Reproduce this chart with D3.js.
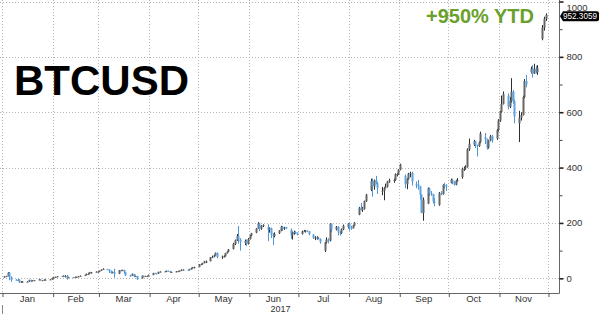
<!DOCTYPE html>
<html><head><meta charset="utf-8">
<script src="https://cdn.jsdelivr.net/npm/d3@7"></script>
<style>body{margin:0;background:#fff}svg{display:block}</style>
</head><body><svg id="c" width="600" height="314"></svg>
<script>
// Weekday OHLC, % change YTD (Jan 2 .. Nov 29, 2017)
const open=[4,6,8,20,5,-5,-6,-6,-14,-13,-12,-12,-6,-10,-7,-6,-4,-7,-7,-5,-5,-4,
1,3,5,8,6,9,9,3,4,3,5,5,7,10,12,16,16,22,22,24,
24,27,31,33,32,27,19,23,16,29,29,30,22,10,9,16,8,8,0,9,8,8,8,
12,19,18,17,23,24,25,27,26,22,23,25,26,27,31,31,30,33,36,40,
41,50,51,55,61,62,76,78,83,92,78,79,80,91,96,106,124,137,153,140,128,135,125,
142,155,165,179,198,179,190,185,175,181,158,153,163,172,186,179,184,175,155,167,167,165,
160,169,172,172,170,158,146,147,147,143,100,130,140,136,197,177,186,168,163,177,185,
198,182,181,191,230,255,247,251,279,320,350,332,354,344,315,316,326,331,350,355,355,376,376,
392,370,340,358,378,380,340,338,332,302,236,270,325,307,304,277,265,308,304,337,335,
345,356,349,338,353,365,396,396,401,466,483,495,481,478,492,510,503,472,497,513,505,536,
570,601,630,660,620,640,674,640,560,580,590,655,712,745,757,740,757,745,865,905,938];
const high=[7,9,22,23,7,-3,-4,-3,-11,-10,-10,-5,-5,-6,-6,-3,-3,-6,-4,-4,-3,2,
4,6,8,9,10,11,12,5,5,6,6,8,10,13,17,18,23,23,25,25,
28,32,36,34,33,28,24,35,30,31,31,31,23,13,17,16,10,9,10,10,9,9,13,
20,20,19,24,25,26,28,28,27,24,26,27,28,32,32,32,34,38,41,42,
51,53,56,63,64,77,82,85,93,93,82,83,92,98,106,128,140,160,189,145,140,140,146,
157,164,181,203,200,192,195,195,185,183,163,166,174,190,189,186,186,180,169,172,170,166,
172,175,174,173,171,160,152,152,149,144,131,148,145,199,198,189,188,170,180,194,200,
200,190,193,203,258,272,258,281,305,360,361,357,370,348,330,330,342,352,360,360,379,380,394,
414,375,362,381,385,385,350,355,334,304,292,328,328,315,305,290,312,315,340,345,340,
360,360,352,356,362,400,404,408,470,505,500,497,483,494,530,525,505,500,518,518,540,575,
605,660,675,668,655,723,680,645,605,600,660,720,735,765,770,775,768,770,915,945,957];
const low=[3,5,7,-7,-13,-8,-8,-17,-16,-14,-13,-13,-14,-11,-9,-7,-8,-8,-8,-6,-6,-5,
0,2,4,5,5,3,-5,1,2,2,4,4,6,9,11,13,15,17,21,21,
23,26,30,31,19,17,18,2,15,27,28,17,8,6,8,4,6,-6,-1,6,5,6,7,
11,16,15,16,22,23,24,25,19,21,22,24,25,26,29,28,29,32,35,36,
40,48,49,54,55,61,73,76,82,72,70,75,78,89,95,104,120,135,125,100,120,117,122,
140,152,163,178,170,175,185,134,165,145,120,148,160,170,172,175,178,143,140,158,160,155,
158,167,165,167,155,142,138,140,140,125,95,125,126,133,166,173,155,155,160,174,180,
172,175,180,190,228,245,240,248,276,315,295,320,340,305,300,282,325,328,345,345,352,368,374,
390,325,322,356,365,335,325,320,285,235,208,268,298,298,270,260,262,300,302,325,315,
343,340,335,336,350,360,388,392,400,460,478,470,440,475,488,485,465,468,495,490,500,530,
565,598,628,610,615,635,630,560,492,570,588,650,690,740,725,738,740,735,860,895,930];
const close=[6,8,20,5,-6,-6,-6,-14,-13,-12,-12,-6,-10,-7,-7,-4,-7,-7,-5,-5,-4,1,
3,5,7,6,9,9,3,4,3,5,5,7,9,12,16,16,22,22,24,24,
27,31,34,32,27,19,23,16,29,29,30,22,11,9,16,8,8,-3,9,8,8,8,12,
19,18,17,23,24,25,27,26,22,23,25,26,27,31,31,30,33,36,40,40,
50,51,55,61,61,76,78,83,92,77,79,80,91,96,104,124,137,153,140,132,135,125,142,
155,162,179,198,179,190,193,175,181,158,153,161,172,186,179,184,182,155,167,167,165,158,
169,172,172,170,160,146,147,147,143,131,130,140,136,197,176,186,168,163,177,190,198,
182,181,191,201,255,247,251,279,302,350,332,354,344,327,316,326,331,350,354,355,376,376,392,
411,340,358,378,380,350,338,332,302,236,284,325,307,304,277,276,308,304,337,335,333,
356,349,338,353,354,396,396,401,466,486,495,481,478,492,523,503,472,497,513,500,536,570,
601,630,666,620,640,674,640,585,580,590,655,712,700,757,740,757,745,760,905,938,952.3059];
const monthLabels=["Jan","Feb","Mar","Apr","May","Jun","Jul","Aug","Sep","Oct","Nov"];
const yTicks=[0,200,400,600,800,1000];
const yMinor=[100,300,500,700,900];
const yearLabel="2017";
const titleText="BTCUSD";
const ytdText="+950% YTD";
const lastValue=952.3059;

const dates=d3.timeDay.range(new Date(2017,0,2),new Date(2017,10,30)).filter(d=>d.getDay()>0&&d.getDay()<6);
const data=dates.map((d,i)=>({date:d,o:open[i],h:high[i],l:low[i],c:close[i]}));

const svg=d3.select("#c");
const plotR=559,plotB=293;
const x=d3.scaleTime().domain([new Date(2017,0,1),new Date(2017,11,1)]).range([2,548]);
const y=d3.scaleLinear().domain([0,1000]).range([278.3,1.5]);
const monthStarts=d3.timeMonth.range(new Date(2017,0,1),new Date(2017,11,2));
const narrow='"Liberation Sans Narrow","Arial Narrow","Liberation Sans",Arial,sans-serif';

// grid
const grid=svg.append("g").attr("stroke","#b5b5b5").attr("stroke-width",1).attr("stroke-dasharray","1,2");
grid.selectAll("line.h").data(yTicks).join("line").attr("class","h")
  .attr("x1",0).attr("x2",plotR).attr("y1",d=>Math.round(y(d))+0.5).attr("y2",d=>Math.round(y(d))+0.5);
grid.selectAll("line.v").data(monthStarts).join("line").attr("class","v")
  .attr("x1",d=>Math.round(x(d))+0.5).attr("x2",d=>Math.round(x(d))+0.5).attr("y1",0).attr("y2",plotB);

// candles
const cw=2;
const cg=svg.append("g");
const up=d=>d.c>=d.o;
const cx=d=>x(d3.timeHour.offset(d.date,12));
cg.selectAll("line.w").data(data).join("line").attr("class","w")
  .attr("x1",d=>Math.round(cx(d))+0.5).attr("x2",d=>Math.round(cx(d))+0.5)
  .attr("y1",d=>y(d.h)).attr("y2",d=>y(d.l))
  .attr("stroke",d=>up(d)?"#2e2e2e":"#4d96d9").attr("stroke-width",1);
cg.selectAll("rect").data(data).join("rect")
  .attr("x",d=>Math.round(cx(d))+0.5-cw/2)
  .attr("width",cw)
  .attr("y",d=>y(Math.max(d.o,d.c)))
  .attr("height",d=>Math.max(1,Math.abs(y(d.o)-y(d.c))))
  .attr("fill",d=>up(d)?"#666":"#5ea3e0");

// axes lines
svg.append("line").attr("x1",0).attr("x2",plotR+0.5).attr("y1",plotB+0.5).attr("y2",plotB+0.5).attr("stroke","#666");
svg.append("line").attr("x1",plotR+0.5).attr("x2",plotR+0.5).attr("y1",0).attr("y2",plotB+0.5).attr("stroke","#666");

// bottom axis
const xa=svg.append("g").attr("transform",`translate(0.5,${plotB})`)
  .call(d3.axisBottom(x).tickValues(monthStarts).tickSize(4).tickFormat(""));
xa.select(".domain").remove();
xa.selectAll(".tick line").attr("stroke","#555");
const mids=monthStarts.slice(0,11).map((d,i)=>new Date((+d + +monthStarts[i+1])/2));
svg.append("g").selectAll("text").data(mids).join("text")
  .attr("x",d=>x(d)).attr("y",301.5).attr("text-anchor","middle")
  .attr("font-family",narrow).attr("font-size",9.5).attr("fill","#333")
  .text((d,i)=>monthLabels[i]);
svg.append("text").attr("x",(x(new Date(2017,0,1))+plotR)/2).attr("y",312).attr("text-anchor","middle")
  .attr("font-family",narrow).attr("font-size",9).attr("fill","#333").text(yearLabel);
svg.append("line").attr("x1",2.5).attr("x2",2.5).attr("y1",305).attr("y2",314).attr("stroke","#888");

// right axis
const ya=svg.append("g").attr("transform",`translate(${plotR+0.5},0)`)
  .call(d3.axisRight(y).tickValues(yTicks).tickSize(4).tickPadding(3).tickFormat(d3.format("d")));
ya.select(".domain").remove();
ya.selectAll(".tick line").attr("stroke","#222").attr("stroke-width",1.6);
ya.selectAll(".tick text").attr("font-family",narrow).attr("font-size",9.5).attr("fill","#333");
ya.selectAll(".tick").filter(d=>d===1000).select("text").attr("dy","0.75em").attr("y",1.5);
const ym=svg.append("g").attr("transform",`translate(${plotR+0.5},0)`)
  .call(d3.axisRight(y).tickValues(yMinor).tickSize(3).tickFormat(""));
ym.select(".domain").remove();
ym.selectAll(".tick line").attr("stroke","#444");

// last value label
const ly=y(lastValue)+1.5;
svg.append("path")
  .attr("d",`M560,${ly} L563,${ly-5} L597,${ly-5} Q599,${ly-5} 599,${ly-3} L599,${ly+3} Q599,${ly+5} 597,${ly+5} L563,${ly+5} Z`)
  .attr("fill","#000");
svg.append("text").attr("x",563).attr("y",ly).attr("dy","0.35em")
  .attr("textLength",34).attr("lengthAdjust","spacingAndGlyphs")
  .attr("font-family",narrow).attr("font-size",8.5).attr("fill","#fff").text(d3.format(".4f")(lastValue));

// titles
svg.append("text").attr("x",14).attr("y",95).attr("font-family","'Liberation Sans',Arial,sans-serif")
  .attr("font-weight","bold").attr("font-size",42).attr("fill","#000").text(titleText);
svg.append("text").attr("x",426).attr("y",23).attr("font-family","'Liberation Sans',Arial,sans-serif")
  .attr("font-weight","bold").attr("font-size",20).attr("fill","#6aa02c").text(ytdText);
</script></body></html>
